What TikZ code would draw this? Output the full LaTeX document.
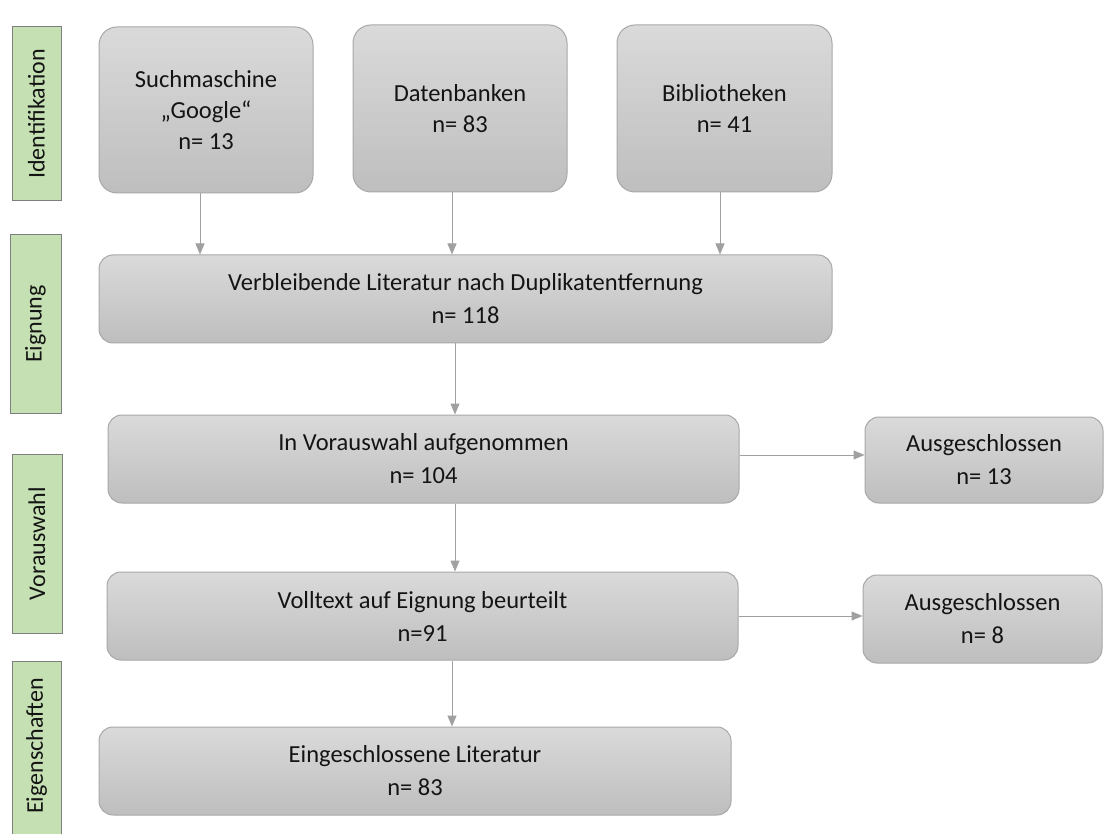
\documentclass[tikz,border=0pt]{standalone}
\usepackage{fontspec}
\setmainfont{Carlito}
\usetikzlibrary{arrows.meta,calc}
\definecolor{boxtop}{HTML}{DADADA}
\definecolor{boxbot}{HTML}{BEBEBE}
\definecolor{boxline}{HTML}{A8A8A8}
\definecolor{greenfill}{HTML}{C5E0B3}
\definecolor{greenline}{HTML}{7F7F7F}
\definecolor{arrowgray}{HTML}{A0A0A0}
\definecolor{txt}{HTML}{141414}
\tikzset{
  graybox/.style={draw=boxline, line width=1pt, rounded corners=18pt, top color=boxtop, bottom color=boxbot,
    align=center, inner sep=0pt, font=\fontsize{24.5pt}{31pt}\selectfont, text=txt},
  widebox/.style={graybox, rounded corners=14pt, font=\fontsize{24.5pt}{33pt}\selectfont},
  phase/.style={draw=greenline, line width=1pt, fill=greenfill, inner sep=0pt, anchor=center},
  phasetext/.style={rotate=90, font=\fontsize{24pt}{28pt}\selectfont, text=txt},
  arr/.style={draw=arrowgray, line width=1pt, -{Triangle[length=11pt,width=9pt]}}
}
\begin{document}
\begin{tikzpicture}[x=1pt,y=-1pt]
\useasboundingbox (0,0) rectangle (1117,834);
\fill[white] (0,0) rectangle (1117,834);
% phase labels
\node[phase, minimum width=49pt, minimum height=174pt] (p1) at (36.5,114) {};
\node[phasetext] (t1) at (p1.center) {Identifikation};
\node[phase, minimum width=51pt, minimum height=178pt] (p2) at (35.5,324) {};
\node[phasetext] (t2) at (p2.center) {Eignung};
\node[phase, minimum width=50pt, minimum height=179pt] (p3) at (37,543.5) {};
\node[phasetext] (t3) at (p3.center) {Vorauswahl};
\node[phase, minimum width=49pt, minimum height=190pt] (p4) at (36.5,756) {};
\node[phasetext] (t4) at ([yshift=10pt]p4.center) {Eigenschaften};
% top boxes
\node[graybox, minimum width=214pt, minimum height=166pt] (s1) at (206,110) {Suchmaschine\\„Google“\\n= 13};
\node[graybox, minimum width=214pt, minimum height=167pt] (s2) at (460,108.5) {Datenbanken\\n= 83};
\node[graybox, minimum width=215pt, minimum height=167pt] (s3) at (724.5,108.5) {Bibliotheken\\n= 41};
% main flow
\node[widebox, minimum width=733pt, minimum height=88pt] (v) at (465.5,299) {Verbleibende Literatur nach Duplikatentfernung\\n= 118};
\node[widebox, minimum width=631pt, minimum height=88pt] (ir) at (423.5,459) {In Vorauswahl aufgenommen\\n= 104};
\node[widebox, minimum width=238pt, minimum height=86pt] (a1) at (984,460) {Ausgeschlossen\\n= 13};
\node[widebox, minimum width=631pt, minimum height=88pt] (vt) at (422.5,616) {Volltext auf Eignung beurteilt\\n=91};
\node[widebox, minimum width=239pt, minimum height=88pt] (a2) at (982.5,619) {Ausgeschlossen\\n= 8};
\node[widebox, minimum width=632pt, minimum height=88pt] (e) at (415,771) {Eingeschlossene Literatur\\n= 83};
% arrows
\draw[arr] ([xshift=-6pt]s1.south) -- ([xshift=-6pt]s1.south |- v.north);
\draw[arr] ([xshift=-8pt]s2.south) -- ([xshift=-8pt]s2.south |- v.north);
\draw[arr] ([xshift=-4.5pt]s3.south) -- ([xshift=-4.5pt]s3.south |- v.north);
\draw[arr] ([xshift=-10.5pt]v.south) -- ([xshift=-10.5pt]v.south |- ir.north);
\draw[arr] ([xshift=31.5pt]ir.south) -- ([xshift=31.5pt]ir.south |- vt.north);
\draw[arr] ([xshift=29.5pt]vt.south) -- ([xshift=29.5pt]vt.south |- e.north);
\draw[arr] ([yshift=4pt]ir.east) -- ([yshift=4pt]ir.east -| a1.west);
\draw[arr] (vt.east) -- (vt.east -| a2.west);
\end{tikzpicture}
\end{document}
